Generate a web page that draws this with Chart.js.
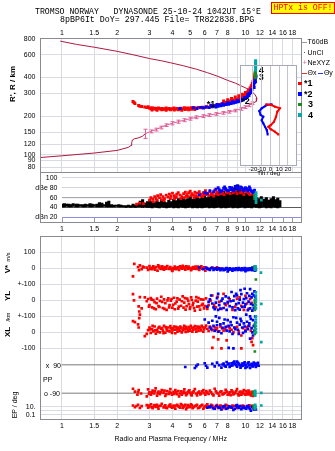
<!DOCTYPE html>
<html lang="en">
<head>
<meta charset="UTF-8">
<title>Dynasonde ionogram - Tromso 25-10-24 1042UT</title>
<script src="https://cdn.jsdelivr.net/npm/chart.js"></script>
<style>
  body { margin: 0; background: #fff; }
  #page { position: relative; width: 335px; height: 451px; overflow: hidden; font-family: "Liberation Sans", Arial, sans-serif; color: #000; }
  #page canvas { position: absolute; left: 0; top: 0; }
  .t { position: absolute; white-space: pre; line-height: 1; }
  .mono { font-family: "Liberation Mono", "DejaVu Sans Mono", monospace; }
  .rot { transform: translate(-50%, -50%) rotate(-90deg); }
  .lg { position: absolute; left: 302px; font-size: 7px; line-height: 8px; white-space: nowrap; }
  .sw { display: inline-block; width: 4.5px; height: 1px; vertical-align: middle; margin-right: 1px; }
  .sq { position: absolute; left: 298px; width: 3.5px; height: 3.5px; }
  .tag { position: absolute; font-size: 9px; font-weight: bold; line-height: 1; }
</style>
</head>
<body>
<div id="page">
  <canvas id="cR" width="335" height="451"></canvas>
  <canvas id="cA" width="335" height="451"></canvas>
  <canvas id="cL" width="335" height="451"></canvas>
  <canvas id="cT" width="335" height="451"></canvas>

  <div class="t mono" style="left:35px;top:8.3px;font-size:8.2px">TROMSO NORWAY   DYNASONDE 25-10-24 1042UT 15°E</div>
  <div class="t mono" style="left:60px;top:16.3px;font-size:8.3px">8pBP6It DoY= 297.445 File= TR822838.BPG</div>
  <div class="t mono" style="left:271px;top:2px;width:62px;height:10px;line-height:10px;border:1px solid #f00;background:#ff0;color:#f00;font-size:8.2px;text-align:center">HPTx is OFF!</div>

  <div class="lg" style="top:38.3px"><span class="sw" style="background:#9a9aa4"></span>T60dB</div>
  <div class="lg" style="top:48.7px"><span style="display:inline-block;width:5.5px;text-align:center">·</span>UnCl</div>
  <div class="lg" style="top:59px"><span style="display:inline-block;width:5.5px;text-align:center;color:#e0609a">+</span>NeXYZ</div>
  <div class="lg" style="top:69px"><span class="sw" style="background:#e0303a"></span>Θx <span class="sw" style="background:#3030e0"></span>Θy</div>
  <div class="sq" style="top:81.5px;background:#f00"></div><div class="tag" style="left:304px;top:79px">*1</div>
  <div class="sq" style="top:92.2px;background:#00f"></div><div class="tag" style="left:304px;top:89.7px">*2</div>
  <div class="sq" style="top:102.9px;background:#1a8c1a"></div><div class="tag" style="left:308px;top:100.4px">3</div>
  <div class="sq" style="top:113.2px;background:#00a8a8"></div><div class="tag" style="left:308px;top:110.7px">4</div>

  <div class="t rot" style="left:12.5px;top:83.5px;font-size:8px;font-weight:bold">R', R / km</div>
  <div class="t rot" style="left:8.5px;top:257px;font-size:5.5px">m/s</div>
  <div class="t rot" style="left:8px;top:269px;font-size:8px;font-weight:bold">V*</div>
  <div class="t rot" style="left:8px;top:296px;font-size:8px;font-weight:bold">YL</div>
  <div class="t rot" style="left:8.5px;top:317px;font-size:5.5px">/km</div>
  <div class="t rot" style="left:8px;top:332px;font-size:8px;font-weight:bold">XL</div>
  <div class="t rot" style="left:13.5px;top:405px;font-size:7px">EP / deg</div>
  <div class="t" style="left:41px;top:361.6px;width:20px;text-align:right;font-size:7px">x  90</div>
  <div class="t" style="left:43px;top:376.1px;font-size:7px">PP</div>
  <div class="t" style="left:41px;top:389.9px;width:19px;text-align:right;font-size:7px">o -90</div>
</div>

<script>
// frequency axis (MHz, log)
const freqTicks  = [1, 1.5, 2, 3, 4, 5, 6, 7, 8, 9, 10, 12, 14, 16, 18];
const freqLabels = ['1', '1.5', '2', '3', '4', '5', '6', '7', '8', '9', '10', '12', '14', '16', '18'];
const freqLabelsNo9 = freqLabels.map((l, i) => freqTicks[i] === 9 ? '' : l);

// range panel, R' / R in km
const rangeTicks = [80, 90, 100, 120, 150, 200, 300, 400, 600, 800];
const modelUpper = [[0.98,770],[1.2,726],[1.5,690],[2.0,641],[2.5,598],[3.0,563],[3.5,540],[3.9,522],[4.6,494],[5.4,465],[6.2,437],[7.1,408],[8.0,380],[8.8,362],[9.7,339],[10.3,326],[10.8,311],[11.25,296],[11.55,276],[11.47,261],[11.0,252],[10.6,249]];
const modelLower = [[0.76,95],[1.0,98],[1.5,103],[2.0,108],[2.3,114],[2.38,118],[2.4,124],[2.42,130],[2.48,133],[2.6,135],[2.74,139],[2.85,146]];
const neXYZ = [[2.85,146],[3.05,152],[3.25,157],[3.45,163],[3.7,170],[4.0,176],[4.3,181],[4.65,186],[5.0,191],[5.4,196],[5.85,200],[6.35,204],[6.9,208],[7.5,212],[8.1,216],[8.8,221],[9.4,228],[10.0,235],[10.5,243],[10.9,252]];
const neErr = [12,4,4,4,4,5,5,5,5,5,5,5,5,5,5,5,6,6,6,6];
const echo1 = [[2.44,260],[2.47,255],[2.50,251],[2.62,242],[2.66,239],[2.72,238],[2.83,236],[2.90,233],[2.95,237],[3.00,231],[3.05,228],[3.10,232],[3.10,223],[3.15,228],[3.20,230],[3.25,226],[3.30,229],[3.30,222],[3.36,231],[3.42,227],[3.50,229],[3.50,224],[3.56,225],[3.62,228],[3.70,231],[3.70,222],[3.78,227],[3.85,229],[3.90,224],[3.92,225],[4.00,228],[4.08,231],[4.10,223],[4.15,227],[4.25,229],[4.30,224],[4.35,226],[4.45,230],[4.50,222],[4.55,228],[4.65,232],[4.70,225],[4.75,229],[4.85,231],[4.90,224],[4.95,228],[5.05,232],[5.10,226],[5.15,230],[5.25,233],[5.30,225],[5.40,231],[5.55,234],[5.70,232],[5.85,235],[6.00,233],[6.15,237],[6.30,235],[6.45,239],[6.60,238],[6.80,242],[7.00,241],[7.20,246],[7.40,249],[7.60,252],[7.80,255],[8.00,258],[8.20,262],[8.45,265],[8.70,268],[8.95,272],[9.20,276],[9.45,281],[9.70,287],[9.90,293],[10.10,300],[10.30,310],[10.45,320],[10.60,332],[10.75,345],[10.90,360],[11.00,375],[11.10,390],[11.20,405],[11.25,420],[11.30,432],[7.6,262],[8.0,268],[8.4,275],[8.8,282],[9.2,289],[9.6,296],[10.0,306],[10.4,318]];
const echo2 = [[4.40,229],[5.20,232],[5.45,229],[5.70,234],[5.90,231],[6.10,236],[6.35,233],[6.60,237],[6.90,236],[7.10,239],[7.35,241],[7.60,243],[7.85,246],[8.10,248],[8.35,251],[8.60,253],[8.85,256],[9.10,259],[9.35,262],[9.55,265],[9.75,270],[9.95,274],[10.10,279],[10.25,285],[10.40,292],[10.55,300],[10.70,310],[10.85,322],[11.00,335],[11.10,350],[11.20,365],[11.30,380],[11.38,398],[11.42,412],[6.5,243],[7.0,246],[7.5,250],[8.0,254],[8.5,259],[9.0,265],[9.5,272],[9.9,280],[10.3,296],[10.7,318],[11.05,345],[11.3,390],[6.8,240],[7.25,244],[7.7,247],[8.2,252],[8.7,257],[9.2,262],[9.7,268],[10.0,276],[10.45,290],[10.8,305],[11.15,335],[11.35,370]];
const echo3 = [[11.32,398],[11.32,408],[11.32,418],[11.32,428],[11.32,438],[11.32,448]];
const echo4 = [[11.36,458],[11.36,470],[11.36,482],[11.36,494],[11.36,506],[11.36,518],[11.36,530],[11.36,542]];
const traceTags = ['*1', '*2', '3', '4'];
const tagF = [6.5, 10.0, 12.2, 12.2];
const tagR = [246, 260, 399, 458];

// tilt inset
const tiltTicks  = [-20, -10, 0, 10, 20];
const tiltLabels = ['-20', '-10', '0', '10', '20'];
const thetaX = [[-5.2,247],[0.8,244],[5.2,237],[10.8,230],[7.8,216],[6.4,198],[4.1,181],[0.3,170],[-2.4,165],[0.3,158],[5.2,151],[9.0,144]];
const thetaY = [[1.5,247],[-4.2,244],[-10,230],[-12.7,219],[-11.2,204],[-8.2,198],[-10,186],[-8.2,176],[-6.2,165],[-4.2,156],[-3.2,144]];

// amplitude panel, dB
const ampTicks  = [20, 40, 60, 80, 100];
const ampLabels = ['dBn 20', '40', '60', 'dBe 80', '100'];
const t60 = [[1, 60], [21, 60]];
const noiseF  = [1.00,1.03,1.06,1.09,1.12,1.15,1.19,1.22,1.26,1.30,1.34,1.38,1.42,1.46,1.50,1.55,1.60,1.65,1.70,1.75,1.80,1.86,1.92,1.98,2.04,2.10,2.16,2.23,2.30,2.37,2.44,2.51,2.59,2.67,2.75,2.83,2.92,3.01,3.10,3.19,3.29,3.39,3.49,3.60,3.71,3.82,3.94,4.06,4.18,4.31,4.44,4.57,4.71,4.85,5.00,5.15,5.31,5.47,5.63,5.80,5.98,6.16,6.35,6.54,6.74,6.94,7.15,7.37,7.59,7.82,8.06,8.30,8.55,8.81,9.08,9.35,9.63,9.92,10.2,10.5,10.8,11.2,11.5,11.9,12.2,12.6,13.0,13.4,13.8,14.2,14.6,15.0,15.4];
const noiseHi = [47,48,47,47,46,48,47,47,46,46,47,46,48,47,46, 47,50,49,46,51,53,46,45,45,46,45, 44,44,45,44,47,45,48,53,56,49,52, 55,52,50,54,51,56,53,50,55,52,57, 54,58,55,60,56,58,62,57,60,63, 58,62,66,60,64,70,63,67,72,66,74, 70,76,71,80,84,86,78,74,70,68, 64,66,62,60,58,62,57,60,55,58,62,56,59,54];
const noiseLo = [41,41,42,41,41,42,41,41,42,41,41,42,41,41,42, 41,41,41,42,41,41,41,41,42,41,41, 41,40,41,40,41,40,41,41,40,41,40, 40,39,41,40,39,41,40,39,40,41,39, 40,39,41,40,39,40,41,39,40,39, 40,39,40,41,39,40,39,40,41,39,40, 39,40,41,39,40,39,40,41,39,40, 40,39,41,40,39,40,41,39,40,39,41,40,39,41];
const ampRed = [[2.55,47],[2.65,49],[2.78,48],[3.00,55],[3.05,60],[3.12,57],[3.20,62],[3.25,58],[3.32,64],[3.40,60],[3.45,66],[3.55,62],[3.62,58],[3.70,65],[3.78,61],[3.85,67],[3.92,63],[4.00,69],[4.08,64],[4.15,60],[4.22,67],[4.30,70],[4.40,65],[4.50,62],[4.60,68],[4.70,71],[4.80,66],[4.90,70],[5.00,73],[5.10,68],[5.20,65],[5.30,71],[5.45,69],[5.60,72],[5.75,67],[5.90,70],[6.05,74],[6.20,69],[6.40,72],[6.60,68],[6.80,75],[7.00,71],[7.20,74],[7.50,70],[7.80,76],[8.10,72],[8.40,78],[8.80,73],[9.20,76],[9.60,71],[10.00,74],[10.40,69],[10.80,72],[11.10,66],[3.5,56],[4.1,58],[4.75,63],[5.35,64],[5.95,66],[3.15,52],[3.3,55],[3.6,54],[3.9,58],[4.2,62],[4.45,58],[4.65,60],[4.85,62],[5.05,64],[5.25,60],[5.5,62],[5.7,64],[5.85,62],[6.1,66],[6.3,64],[6.5,66],[6.7,63],[6.9,68],[7.1,66],[7.35,68],[7.65,66],[7.95,70],[8.25,68],[8.6,70],[9.0,68],[9.4,70],[9.8,66],[10.2,72],[10.6,66]];
const ampBlue = [[5.60,66],[6.00,70],[6.40,74],[6.90,77],[7.10,80],[7.30,72],[7.60,79],[7.70,82],[7.90,75],[8.20,81],[8.30,76],[8.50,77],[8.80,83],[9.00,84],[9.10,79],[9.40,82],[9.70,76],[9.90,78],[10.00,80],[10.30,74],[10.50,82],[10.60,78],[10.90,72],[11.00,70],[11.20,75],[7.2,76],[7.45,74],[7.8,78],[8.05,74],[8.4,80],[8.65,74],[8.95,78],[9.25,76],[9.55,80],[9.8,74],[10.15,78],[10.4,76],[10.75,74],[11.1,72],[6.7,72],[6.2,68]];
const ampGreen = [[11.22,58],[11.22,62],[11.22,66]];
const ampTeal = [[11.42,50],[11.42,54],[11.42,58],[11.42,62],[11.42,66],[11.42,70],[12.20,55]];

// lower panels: V* (m/s), YL and XL (km), PP (deg), EP (deg)
const vsRed = [[2.44,-50],[2.48,28],[2.60,8],[2.63,-12],[2.66,18],[2.72,-5],[2.76,10],[2.90,4],[2.95,-10],[3.00,14],[3.05,2],[3.10,-6],[3.15,12],[3.20,0],[3.26,8],[3.32,-14],[3.38,6],[3.45,-2],[3.52,12],[3.60,-8],[3.68,4],[3.75,14],[3.82,-4],[3.90,8],[3.98,-12],[4.05,2],[4.12,10],[4.20,-6],[4.30,6],[4.40,12],[4.50,-2],[4.60,8],[4.70,-8],[4.80,4],[4.90,10],[5.00,0],[5.10,-6],[5.20,8],[5.30,2],[5.40,-4],[5.50,10],[5.60,-10],[5.70,4],[5.80,-2],[5.95,6],[6.05,-14],[7.00,6],[7.40,-2],[3.35,18],[4.00,-16],[4.55,16],[5.05,-12],[2.80,6],[3.02,-4],[3.13,6],[3.22,-8],[3.40,10],[3.50,-4],[3.56,2],[3.64,8],[3.70,-2],[3.86,2],[3.95,-4],[4.08,-4],[4.16,4],[4.25,0],[4.35,-10],[4.45,4],[4.65,0],[4.75,12],[4.85,-4],[4.95,2],[5.15,4],[5.25,-2],[5.35,10],[5.45,2],[5.55,-4],[5.65,6],[5.75,12],[5.85,0],[6.15,2],[6.30,-4],[6.60,4],[6.80,-2]];
const vsBlue = [[6.10,4],[6.30,-6],[6.50,2],[6.70,-10],[6.90,0],[7.10,-4],[7.30,-12],[7.50,-2],[7.70,-8],[7.90,2],[8.10,-10],[8.30,-4],[8.50,-14],[8.70,-6],[8.90,0],[9.10,-10],[9.30,-4],[9.50,-12],[9.70,-6],[9.90,2],[10.10,-8],[10.30,-2],[10.50,-10],[10.70,-4],[10.90,-12],[11.10,-6],[11.30,0],[11.40,-8],[5.60,4],[5.90,-6],[8.00,-20],[10.00,-18],[6.2,-2],[6.4,-10],[6.6,2],[6.8,-4],[7.0,-8],[7.2,0],[7.4,-6],[7.6,-12],[7.8,-2],[8.0,-6],[8.2,0],[8.4,-8],[8.6,-2],[8.8,-10],[9.0,-4],[9.2,2],[9.4,-8],[9.6,0],[9.8,-10],[10.0,-2],[10.2,-12],[10.4,-6],[10.6,0],[10.8,-8],[11.0,-2],[11.2,-12],[10.9,4],[11.3,-14]];
const vsGreen = [[11.20,-6],[11.20,2],[11.20,10],[11.40,-70]];
const vsTeal = [[11.35,-10],[11.35,0],[11.35,12],[12.15,-27]];
const ylRed = [[2.44,38],[2.47,0],[2.62,-38],[2.66,20],[2.72,-50],[2.83,18],[2.90,-6],[2.95,8],[3.00,-30],[3.05,14],[3.10,-44],[3.15,2],[3.20,-12],[3.25,-56],[3.30,10],[3.36,-36],[3.42,-4],[3.48,22],[3.55,-48],[3.60,6],[3.66,-18],[3.72,-60],[3.80,12],[3.86,-30],[3.92,-2],[4.00,-46],[4.08,16],[4.15,-20],[4.22,-8],[4.30,-52],[4.38,4],[4.46,-34],[4.55,24],[4.64,-14],[4.72,-58],[4.82,10],[4.92,-24],[5.00,-42],[5.10,2],[5.20,-16],[5.30,-64],[5.40,20],[5.50,-8],[5.60,-38],[5.72,6],[5.85,-22],[5.95,-50],[6.10,12],[6.30,-30],[6.60,30],[6.90,-44],[7.20,-10],[7.60,40],[8.00,-20],[8.50,-60],[9.00,10],[9.50,-34],[10.00,28],[10.40,-54],[10.80,-16],[2.64,-70],[2.98,-40],[3.08,4],[3.18,-50],[3.28,-18],[3.40,-42],[3.52,-10],[3.62,-54],[3.76,0],[3.84,-44],[3.96,8],[4.04,-28],[4.12,-56],[4.26,12],[4.34,-40],[4.50,-6],[4.60,-46],[4.68,14],[4.78,-36],[4.88,-4],[4.98,-54],[5.06,18],[5.16,-30],[5.25,-48],[5.36,-2],[5.46,-40],[5.55,14],[5.66,-58],[5.78,-30],[5.90,4],[6.00,-36],[6.20,-54],[6.45,-2],[6.75,-30],[7.05,22],[7.40,-54],[7.80,-30],[8.20,6],[8.80,-40],[9.30,18],[9.80,-60],[10.20,-20],[10.60,8]];
const ylBlue = [[6.20,-40],[6.40,6],[6.60,-20],[6.80,-56],[7.00,14],[7.20,-30],[7.40,-4],[7.60,-48],[7.80,24],[8.00,-12],[8.20,-36],[8.40,52],[8.60,-2],[8.80,-62],[9.00,30],[9.20,-18],[9.40,64],[9.60,-42],[9.80,8],[10.00,-26],[10.20,44],[10.40,-8],[10.60,-50],[10.80,18],[11.00,-30],[11.20,56],[11.30,-10],[9.90,72],[10.60,70],[8.90,40],[7.10,-60],[9.30,-58],[10.90,-64],[11.10,30],[6.3,-10],[6.5,30],[6.7,-44],[6.9,-14],[7.1,40],[7.3,-52],[7.5,10],[7.7,-20],[7.9,-60],[8.1,16],[8.3,-6],[8.5,-44],[8.7,26],[8.9,-24],[9.1,-50],[9.3,4],[9.5,38],[9.7,-14],[9.9,-40],[10.1,14],[10.3,-62],[10.5,28],[10.7,-22],[10.9,40],[11.1,-50],[11.3,20]];
const ylGreen = [[11.25,-60],[11.25,-40],[11.25,-20],[11.25,0]];
const ylTeal = [[11.40,-50],[11.40,-30],[11.40,-10],[11.40,10],[11.40,30],[11.40,50],[12.20,-22]];
const xlRed = [[2.44,70],[2.50,64],[2.60,50],[2.62,30],[2.64,88],[2.66,110],[2.83,-24],[2.90,-10],[2.95,14],[3.00,30],[3.05,-4],[3.10,20],[3.15,6],[3.20,36],[3.25,-8],[3.30,16],[3.36,28],[3.42,0],[3.48,22],[3.55,10],[3.60,40],[3.66,-2],[3.72,18],[3.80,30],[3.86,6],[3.92,24],[4.00,12],[4.08,36],[4.15,-6],[4.22,20],[4.30,30],[4.38,8],[4.46,26],[4.55,14],[4.64,40],[4.72,2],[4.82,22],[4.92,32],[5.00,10],[5.10,28],[5.20,16],[5.30,38],[5.40,4],[5.50,24],[5.60,34],[5.72,12],[5.85,30],[5.95,20],[6.10,42],[6.30,8],[6.50,28],[6.70,-30],[6.90,16],[7.10,-44],[7.30,36],[7.60,10],[7.90,-50],[8.20,24],[8.60,0],[9.00,34],[9.50,-20],[10.00,14],[10.50,40],[10.90,-36],[6.60,-98],[7.40,-100],[9.50,-100],[10.80,-60],[11.00,-80],[3.02,18],[3.12,40],[3.22,12],[3.32,4],[3.40,34],[3.52,26],[3.58,-6],[3.68,32],[3.76,10],[3.90,38],[3.98,-4],[4.04,24],[4.12,16],[4.18,34],[4.26,4],[4.34,18],[4.42,36],[4.50,0],[4.60,28],[4.68,18],[4.76,34],[4.86,6],[4.96,20],[5.04,40],[5.14,4],[5.24,30],[5.35,20],[5.45,36],[5.55,10],[5.66,26],[5.78,40],[5.90,4],[6.00,30],[6.20,22],[6.40,36],[6.60,14],[6.80,30],[7.00,24],[7.20,6],[7.45,26],[7.75,20],[8.00,36],[8.40,16],[8.80,28],[9.20,4],[9.70,26],[10.20,32],[10.70,10]];
const xlBlue = [[6.30,60],[6.50,20],[6.70,40],[6.90,100],[7.10,4],[7.30,50],[7.50,28],[7.70,80],[7.90,10],[8.10,40],[8.30,64],[8.50,-10],[8.70,30],[8.90,90],[9.10,16],[9.30,48],[9.50,70],[9.70,-4],[9.90,36],[10.10,110],[10.30,20],[10.50,56],[10.70,84],[10.90,0],[11.10,40],[11.30,100],[8.10,-98],[8.60,-100],[10.60,-40],[11.00,-20],[6.00,80],[7.00,66],[6.4,30],[6.6,72],[6.8,10],[7.0,44],[7.2,90],[7.4,-6],[7.6,56],[7.8,34],[8.0,76],[8.2,6],[8.4,44],[8.6,94],[8.8,20],[9.0,60],[9.2,-10],[9.4,84],[9.6,30],[9.8,56],[10.0,6],[10.2,66],[10.4,40],[10.6,100],[10.8,26],[11.0,76],[11.2,10],[11.35,60]];
const xlGreen = [[11.25,-10],[11.25,10],[11.25,30],[11.25,50],[11.25,-120]];
const xlTeal = [[11.40,0],[11.40,20],[11.40,40],[11.40,60],[11.40,80],[11.40,100],[12.20,-62]];
const ppLineF = [1, 21];
const ppRed = [[2.44,-62],[2.50,-80],[2.58,-100],[2.62,-70],[2.70,-92],[2.90,-110],[2.95,-66],[3.00,-84],[3.06,-100],[3.12,-74],[3.18,-92],[3.24,-60],[3.30,-106],[3.36,-80],[3.42,-96],[3.50,-70],[3.58,-88],[3.66,-108],[3.74,-76],[3.82,-94],[3.90,-64],[3.98,-100],[4.06,-82],[4.15,-70],[4.25,-96],[4.35,-110],[4.45,-78],[4.55,-90],[4.65,-66],[4.75,-102],[4.85,-84],[4.95,-72],[5.05,-98],[5.15,-86],[5.30,-64],[5.45,-104],[5.60,-80],[5.75,-92],[5.90,-70],[6.05,-100],[6.20,-86],[6.40,-74],[6.60,-96],[6.80,-62],[7.00,-88],[7.20,-106],[7.40,-78],[7.60,-94],[7.80,-68],[8.00,-100],[8.20,-84],[8.40,-72],[8.60,-98],[8.80,-86],[9.00,-64],[9.20,-104],[9.40,-80],[9.60,-92],[9.80,-70],[10.00,-100],[10.20,-86],[10.40,-74],[10.60,-96],[10.80,-82],[11.00,-108],[2.6,-84],[2.98,-94],[3.09,-86],[3.21,-78],[3.33,-90],[3.46,-84],[3.62,-74],[3.7,-96],[3.86,-82],[3.94,-88],[4.1,-94],[4.2,-84],[4.3,-76],[4.4,-92],[4.5,-100],[4.6,-80],[4.7,-88],[4.8,-94],[4.9,-76],[5.0,-88],[5.1,-104],[5.22,-78],[5.38,-92],[5.52,-86],[5.68,-98],[5.82,-78],[5.98,-90],[6.12,-76],[6.3,-94],[6.5,-84],[6.7,-104],[6.9,-78],[7.1,-92],[7.3,-82],[7.5,-98],[7.7,-88],[7.9,-80],[8.1,-94],[8.3,-102],[8.5,-80],[8.7,-92],[8.9,-76],[9.1,-96],[9.3,-84],[9.5,-100],[9.7,-82],[9.9,-94],[10.1,-76],[10.3,-98],[10.5,-88],[10.7,-104],[10.9,-90]];
const ppBlue = [[5.30,70],[5.40,82],[6.00,100],[6.10,84],[6.20,72],[6.60,96],[6.80,80],[7.00,104],[7.20,88],[7.40,72],[7.60,98],[7.70,84],[7.90,108],[8.00,92],[8.20,76],[8.40,100],[8.50,86],[8.70,110],[8.80,94],[9.00,78],[9.10,102],[9.30,88],[9.40,72],[9.60,98],[9.70,84],[9.90,106],[10.00,90],[10.20,76],[10.30,100],[10.50,86],[10.60,70],[10.80,96],[10.90,82],[11.10,104],[11.20,90],[11.40,76],[11.60,96],[11.80,84],[4.70,76],[5.50,92],[7.5,92],[7.8,78],[8.1,98],[8.3,84],[8.6,104],[8.9,88],[9.2,96],[9.5,82],[9.8,100],[10.1,86],[10.4,106],[10.7,90],[11.0,80],[11.3,98],[11.5,88],[9.0,110],[10.0,70],[11.7,102]];
const ppGreen = [[11.10,-100],[11.10,-90],[11.10,-80]];
const ppTeal = [[11.30,-105],[11.30,-95],[11.30,-85],[11.30,-75],[12.20,-88]];
const epRed = [[2.44,20],[2.50,8],[2.60,30],[2.66,5],[2.72,14],[2.90,25],[2.95,6],[3.00,12],[3.06,40],[3.12,4],[3.18,18],[3.24,9],[3.30,30],[3.36,3],[3.42,15],[3.50,50],[3.58,7],[3.66,22],[3.74,4],[3.82,12],[3.90,35],[3.98,6],[4.06,18],[4.15,3],[4.25,28],[4.35,10],[4.45,45],[4.55,5],[4.65,16],[4.75,2.5],[4.85,24],[4.95,8],[5.05,36],[5.15,4],[5.30,14],[5.45,28],[5.60,6],[5.75,20],[5.90,3],[6.05,12],[6.20,40],[6.40,7],[6.60,18],[6.80,3],[7.00,25],[7.20,9],[7.40,15],[7.60,4],[7.80,30],[8.10,10],[8.50,20],[9.00,5],[9.50,14],[10.00,8],[10.50,22],[11.00,6],[2.55,15],[2.98,20],[3.09,8],[3.21,25],[3.33,10],[3.46,20],[3.62,12],[3.7,6],[3.86,25],[3.94,10],[4.1,8],[4.2,20],[4.3,14],[4.4,6],[4.5,25],[4.6,10],[4.7,30],[4.8,6],[4.9,16],[5.0,10],[5.1,22],[5.22,8],[5.38,18],[5.52,4],[5.68,12],[5.82,28],[5.98,8],[6.12,20],[6.3,10],[6.5,28],[6.7,8],[6.9,14],[7.1,5],[7.3,20],[7.5,8],[7.7,12],[7.95,20],[8.3,6],[8.7,14],[9.2,10],[9.7,18],[10.2,12],[10.8,16]];
const epBlue = [[6.20,6],[6.50,12],[6.80,3],[7.10,8],[7.40,2],[7.70,14],[8.00,4],[8.30,9],[8.60,1.5],[8.90,18],[9.20,5],[9.50,2.5],[9.80,10],[10.10,3],[10.40,7],[10.70,1],[11.00,12],[11.20,4],[11.40,2],[9.00,25],[10.30,16],[6.35,9],[6.65,4],[6.95,15],[7.25,5],[7.55,10],[7.85,3],[8.15,12],[8.45,6],[8.75,3],[9.05,9],[9.35,14],[9.65,5],[9.95,4],[10.25,10],[10.55,3],[10.85,8],[11.1,2],[11.3,6]];
const epGreen = [[11.10,5],[11.10,10],[11.10,20]];
const epTeal = [[11.30,3],[11.30,8],[11.30,15],[11.30,30],[12.20,20]];

// stacked lower axis: one unit = 1 m/s or 1 km, PP and EP share it
const VS_ZERO = 0, YL_ZERO = -200, XL_ZERO = -400;
const PP_ZERO = -692, PP_K = 0.985;
const EP_ZERO = -890, EP_DEC = 25;
const epY = deg => EP_ZERO + EP_DEC * Math.log10(deg);
const lowTicks  = [epY(0.1), epY(1), epY(10), XL_ZERO - 100, XL_ZERO, YL_ZERO - 100, YL_ZERO, VS_ZERO - 100, VS_ZERO, VS_ZERO + 100];
const lowLabels = ['0.1', '', '10.', '-100', '0', '+-100', '0', '+-100', '0', '100'];

const RED = '#ff0000', BLUE = '#0000ff', GREEN = '#1a8c1a', TEAL = '#00a8a8';
const CRIMSON = '#b01840', PINK = '#e0609a', GRID = '#dadae2', FRAME = '#8a8a92';
const INSET = { left: 240.7, top: 65, right: 296.7, bottom: 165 };

Chart.defaults.font.family = '"Liberation Sans", Arial, sans-serif';
Chart.defaults.font.size = 7;
Chart.defaults.color = '#000';

const at = (arr, zero = 0, k = 1) => arr.map(p => ({ x: p[0], y: zero + p[1] * k }));
const epAt = arr => arr.map(p => ({ x: p[0], y: epY(p[1]) }));

function dots(data, color, r, order) {
  return { data, order, showLine: false, pointStyle: 'rect', pointRadius: r,
           pointBackgroundColor: color, pointBorderColor: color, pointBorderWidth: 0 };
}
function curve(data, color, w, order) {
  return { data, order, showLine: true, borderColor: color, borderWidth: w, pointRadius: 0, tension: 0 };
}

function freqAxis(position, labels, height, pad, min, extra) {
  return Object.assign({
    type: 'logarithmic', position, min, max: 20.2, offset: false,
    afterBuildTicks: s => { s.ticks = freqTicks.map(v => ({ value: v })); },
    afterFit: s => { s.height = height; s.paddingLeft = 0; s.paddingRight = 0; },
    ticks: { autoSkip: false, maxRotation: 0, minRotation: 0, padding: pad,
             callback: (v, i) => labels[i] },
    grid: { color: GRID, drawTicks: false, offset: false },
    border: { display: false },
  }, extra || {});
}

function leftAxis(type, min, max, ticks, labels, width, extra) {
  return Object.assign({
    type, min, max,
    afterBuildTicks: s => { s.ticks = ticks.map(v => ({ value: v })); },
    afterFit: s => { s.width = width; s.paddingTop = 0; s.paddingBottom = 0; },
    ticks: { autoSkip: false, padding: 4.5, callback: (v, i) => labels[i] },
    grid: { color: GRID, drawTicks: false },
    border: { display: false },
  }, extra || {});
}

function baseOptions(padding, scales, frame) {
  return {
    responsive: false, animation: false, devicePixelRatio: 1, events: [],
    layout: { padding },
    scales,
    plugins: { legend: { display: false }, tooltip: { enabled: false }, frame },
  };
}

const framePlugin = {
  id: 'frame',
  afterDraw(chart, args, o) {
    const { ctx, chartArea: a } = chart;
    const l = Math.floor(o.x0 !== undefined ? o.x0 : a.left) + 0.5;
    const t = Math.floor(a.top) + 0.5, r = Math.floor(a.right) + 0.5, b = Math.floor(a.bottom) + 0.5;
    ctx.save();
    ctx.strokeStyle = o.color;
    ctx.lineWidth = 1;
    ctx.strokeRect(l, t, r - l, b - t);
    ctx.restore();
  }
};

const insetBg = {
  id: 'insetBg',
  beforeDatasetsDraw(chart) {
    const c = chart.ctx;
    c.save();
    c.fillStyle = '#fff';
    c.fillRect(INSET.left, INSET.top, INSET.right - INSET.left, INSET.bottom - INSET.top);
    c.restore();
  }
};

const errBars = {
  id: 'errBars',
  afterDatasetsDraw(chart) {
    const { ctx, scales: { x, y } } = chart;
    ctx.save();
    ctx.strokeStyle = PINK;
    ctx.lineWidth = 1;
    ctx.beginPath();
    neXYZ.forEach((p, i) => {
      const px = Math.round(x.getPixelForValue(p[0])) + 0.5;
      const y1 = y.getPixelForValue(p[1] - neErr[i]), y2 = y.getPixelForValue(p[1] + neErr[i]);
      ctx.moveTo(px, y1); ctx.lineTo(px, y2);
      ctx.moveTo(px - 2, y1); ctx.lineTo(px + 2, y1);
      ctx.moveTo(px - 2, y2); ctx.lineTo(px + 2, y2);
    });
    ctx.stroke();
    ctx.restore();
  }
};

const tagPlugin = {
  id: 'tags',
  afterDatasetsDraw(chart) {
    const { ctx, scales: { x, y } } = chart;
    ctx.save();
    ctx.font = 'bold 9px "Liberation Sans", Arial, sans-serif';
    ctx.fillStyle = '#000';
    ctx.textAlign = 'center';
    ctx.textBaseline = 'middle';
    traceTags.forEach((t, i) => ctx.fillText(t, x.getPixelForValue(tagF[i]), y.getPixelForValue(tagR[i])));
    ctx.restore();
  }
};

const stubTicks = {
  id: 'stubTicks',
  afterDatasetsDraw(chart) {
    const { ctx, chartArea: a, scales: { x } } = chart;
    ctx.save();
    ctx.strokeStyle = '#9a9aa4';
    ctx.lineWidth = 1;
    ctx.beginPath();
    x.ticks.forEach(t => {
      const px = Math.round(x.getPixelForValue(t.value)) + 0.5;
      ctx.moveTo(px, a.bottom - 5); ctx.lineTo(px, a.bottom);
    });
    ctx.stroke();
    ctx.restore();
  }
};

// range panel
new Chart(document.getElementById('cR'), {
  type: 'scatter',
  data: { datasets: [
    dots(at(echo4), TEAL, 2.1, 1),
    dots(at(echo3), GREEN, 2.1, 1),
    dots(at(echo2), BLUE, 2.1, 2),
    dots(at(echo1), RED, 2.1, 3),
    curve(at(neXYZ), PINK, 1, 4),
    curve(at(modelUpper), CRIMSON, 1, 5),
    curve(at(modelLower), CRIMSON, 1, 5),
  ] },
  options: baseOptions({ left: 0, top: 26, right: 33.5, bottom: 278.5 }, {
    x: freqAxis('top', freqLabelsNo9, 12.5, 1.3, 0.76),
    y: leftAxis('logarithmic', 72.6, 807, rangeTicks, rangeTicks.map(String), 40),
  }, { color: FRAME }),
  plugins: [insetBg, errBars, tagPlugin, framePlugin]
});

// amplitude panel
function ampGridColor(v) { return v === 40 ? '#5a5a5a' : v === 20 ? '#8e8ee6' : '#d4d4dc'; }
new Chart(document.getElementById('cA'), {
  type: 'scatter',
  data: { datasets: [
    dots(at(ampTeal), TEAL, 1.9, 1),
    dots(at(ampGreen), GREEN, 1.9, 1),
    dots(at(ampBlue), BLUE, 2, 2),
    dots(at(ampRed), RED, 2, 3),
    { type: 'bar', order: 8, grouped: false, barThickness: 2.4, backgroundColor: '#000',
      data: noiseF.map((f, i) => ({ x: f, y: [noiseLo[i], noiseHi[i]] })) },
    curve(at(t60), '#a0a0a8', 1, 9),
  ] },
  options: baseOptions({ left: 0, top: 172.5, right: 33.5, bottom: 214.7 }, {
    x: freqAxis('bottom', freqLabels, 14, 2.8, 1, { grid: { display: false, drawTicks: false, offset: false } }),
    y: leftAxis('linear', 10, 111, ampTicks, ampLabels, 62, {
      grid: { color: c => ampGridColor(c.tick && c.tick.value), drawTicks: false } }),
  }, { color: FRAME, x0: 40 }),
  plugins: [stubTicks, framePlugin]
});

// lower stacked panels
const ppLine = v => ppLineF.map(f => ({ x: f, y: PP_ZERO + v * PP_K }));
const lowOf = (vs, yl, xl, pp, ep) => [
  ...at(vs, VS_ZERO), ...at(yl, YL_ZERO), ...at(xl, XL_ZERO), ...at(pp, PP_ZERO, PP_K), ...epAt(ep)];
new Chart(document.getElementById('cL'), {
  type: 'scatter',
  data: { datasets: [
    dots(lowOf(vsTeal, ylTeal, xlTeal, ppTeal, epTeal), TEAL, 1.9, 1),
    dots(lowOf(vsGreen, ylGreen, xlGreen, ppGreen, epGreen), GREEN, 1.9, 1),
    dots(lowOf(vsBlue, ylBlue, xlBlue, ppBlue, epBlue), BLUE, 1.9, 2),
    dots(lowOf(vsRed, ylRed, xlRed, ppRed, epRed), RED, 1.9, 3),
    curve(ppLine(90), '#7a7a7a', 1, 9),
    curve(ppLine(-90), '#7a7a7a', 1, 9),
  ] },
  options: baseOptions({ left: 0, top: 236.7, right: 33.5, bottom: 8 }, {
    x: freqAxis('bottom', freqLabelsNo9, 24, 2.5, 0.76, {
      title: { display: true, text: 'Radio and Plasma Frequency / MHz', padding: { top: 0, bottom: 0 } } }),
    y: leftAxis('linear', -942, 197.5, lowTicks, lowLabels, 40),
  }, { color: FRAME }),
  plugins: [framePlugin]
});

// tilt inset, drawn on top of the range panel
new Chart(document.getElementById('cT'), {
  type: 'scatter',
  data: { datasets: [
    Object.assign(curve(at(thetaX), RED, 2, 1), { pointRadius: 1.4, pointStyle: 'rect', pointBackgroundColor: RED, pointBorderWidth: 0 }),
    Object.assign(curve(at(thetaY), BLUE, 2, 1), { pointRadius: 1.4, pointStyle: 'rect', pointBackgroundColor: BLUE, pointBorderWidth: 0 }),
  ] },
  options: baseOptions({ left: INSET.left, top: INSET.top, right: 335 - INSET.right, bottom: 451 - INSET.bottom - 12 }, {
    x: {
      type: 'linear', min: -34, max: 30,
      afterBuildTicks: s => { s.ticks = tiltTicks.map(v => ({ value: v })); },
      afterFit: s => { s.height = 12; s.paddingLeft = 0; s.paddingRight = 0; },
      ticks: { autoSkip: false, maxRotation: 0, minRotation: 0, padding: 1, font: { size: 6 },
               callback: (v, i) => tiltLabels[i] },
      grid: { color: '#c4c4d0', drawTicks: false },
      border: { display: false },
      title: { display: true, text: 'Tilt / deg', font: { size: 6 }, padding: 0 },
    },
    y: { type: 'logarithmic', display: false, min: 83.1, max: 501 },
  }, { color: '#a8a8b8' }),
  plugins: [framePlugin]
});
</script>
</body>
</html>
